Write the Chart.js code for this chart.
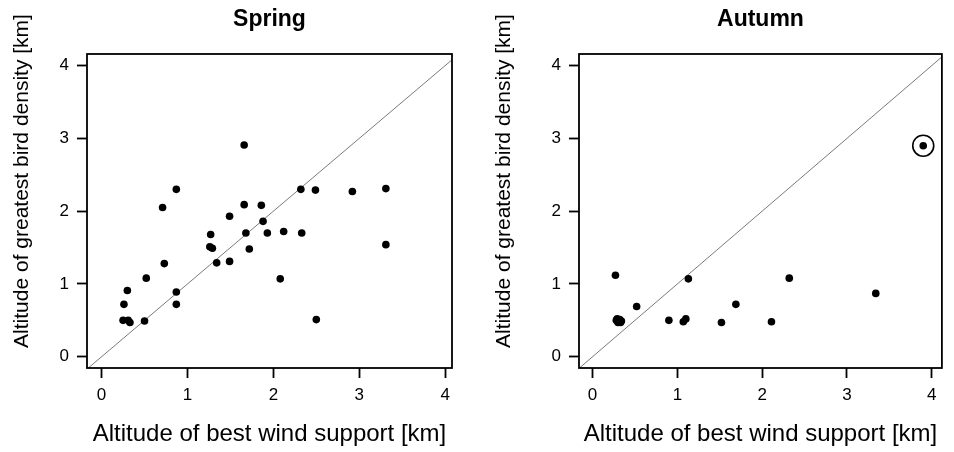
<!DOCTYPE html>
<html><head><meta charset="utf-8">
<script src="https://cdn.jsdelivr.net/npm/chart.js@4.4.0/dist/chart.umd.min.js"></script>
<style>
html,body{margin:0;padding:0;background:#fff;}
#wrap{position:relative;width:954px;height:452px;background:#fff;}
.c{position:absolute;top:0;width:477px;height:452px;}
</style></head><body>
<div id="wrap">
<div class="c" style="left:0"><canvas id="spring" width="477" height="452"></canvas></div>
<div class="c" style="left:477px"><canvas id="autumn" width="477" height="452"></canvas></div>
</div>
<script>
// ---- data ----
const tickValues = [0, 1, 2, 3, 4];
const panelTitles = ['Spring', 'Autumn'];
const xAxisTitle = 'Altitude of best wind support [km]';
const yAxisTitle = 'Altitude of greatest bird density [km]';

const springWind = [1.66,0.87,0.71,2.32,2.49,2.92,3.31,1.66,1.86,1.49,1.88,1.27,1.68,1.93,2.12,2.33,1.26,1.29,1.72,3.31,0.73,1.34,1.49,0.52,2.08,0.30,0.87,0.26,0.87,0.25,0.31,0.33,0.50,2.50];
const springBird = [2.91,2.30,2.05,2.30,2.29,2.27,2.31,2.09,2.08,1.93,1.86,1.68,1.70,1.70,1.72,1.70,1.51,1.49,1.48,1.54,1.28,1.29,1.31,1.08,1.07,0.91,0.89,0.72,0.72,0.50,0.50,0.47,0.49,0.51];

const autumnWind = [3.90,0.27,1.13,2.32,3.34,0.52,1.69,0.90,1.07,1.10,1.52,2.11,0.28,0.30,0.32,0.34,0.29,0.33];
const autumnBird = [2.90,1.12,1.07,1.08,0.87,0.69,0.72,0.50,0.48,0.52,0.47,0.48,0.50,0.47,0.51,0.49,0.52,0.47];

const autumnHighlightWind = [3.90];
const autumnHighlightBird = [2.90];

const diagonal = [-1, 5];

// ---- helpers ----
Chart.defaults.font.family = '"Liberation Sans", Arial, Helvetica, sans-serif';
Chart.defaults.color = '#000';

function pts(xs, ys) { return xs.map((x, i) => ({x: x, y: ys[i]})); }

function makePanel(id, title, xs, ys, hx, hy, lay) {
  const datasets = [
    {data: pts(diagonal, diagonal), showLine: true, borderColor: '#7a7a7a', borderWidth: 1, pointRadius: 0, order: 3},
    {data: pts(xs, ys), backgroundColor: '#000', borderWidth: 0, pointRadius: 3.8, order: 1}
  ];
  if (hx) datasets.push({data: pts(hx, hy), backgroundColor: 'rgba(0,0,0,0)', borderColor: '#000', borderWidth: 1.6, pointRadius: 10.5, order: 0});
  const framePlugin = {
    id: 'frame',
    afterDraw(chart) {
      const {ctx, chartArea: a} = chart;
      ctx.save();
      ctx.strokeStyle = '#000';
      ctx.lineWidth = 1.8;
      ctx.strokeRect(a.left, a.top, a.right - a.left, a.bottom - a.top);
      // panel title, centred over the plot box
      ctx.fillStyle = '#000';
      ctx.font = 'bold 23px "Liberation Sans", Arial, sans-serif';
      ctx.textAlign = 'center';
      ctx.textBaseline = 'middle';
      ctx.fillText(title, (a.left + a.right) / 2, 20);
      // y axis title
      ctx.translate(lay.yTitleX, lay.yTitleY);
      ctx.rotate(-Math.PI / 2);
      ctx.font = '21px "Liberation Sans", Arial, sans-serif';
      ctx.fillText(yAxisTitle, 0, 0);
      ctx.restore();
    }
  };
  const setTicks = (scale) => { scale.ticks = tickValues.map(v => ({value: v})); };
  return new Chart(document.getElementById(id), {
    type: 'scatter',
    data: {datasets: datasets},
    options: {
      responsive: false, animation: false, devicePixelRatio: 1,
      layout: {padding: {left: 0, right: lay.rightPad, top: 54, bottom: 0}},
      plugins: {legend: {display: false}, tooltip: {enabled: false}, title: {display: false}},
      scales: {
        x: {
          type: 'linear', min: lay.xMin, max: lay.xMax,
          afterBuildTicks: setTicks,
          afterFit: (s) => { s.height = 84; },
          grid: {drawOnChartArea: false, drawTicks: true, tickLength: 10, tickColor: '#000', tickWidth: 1.8, color: '#000'},
          border: {display: false},
          ticks: {font: {size: 17}, padding: 7, maxRotation: 0, color: '#000'},
          title: {display: true, text: xAxisTitle, font: {size: 24}, padding: {top: 0, bottom: 3}, color: '#000'}
        },
        y: {
          type: 'linear', min: -0.155, max: 4.16,
          afterBuildTicks: setTicks,
          afterFit: (s) => { s.width = lay.yWidth; },
          grid: {drawOnChartArea: false, drawTicks: true, tickLength: 10, tickColor: '#000', tickWidth: 1.8, color: '#000'},
          border: {display: false},
          ticks: {font: {size: 17}, padding: 8, color: '#000'}
        }
      }
    },
    plugins: [framePlugin]
  });
}

makePanel('spring', panelTitles[0], springWind, springBird, null, null,
  {xMin: -0.17, xMax: 4.08, yWidth: 87, rightPad: 25, yTitleX: 22, yTitleY: 181});
makePanel('autumn', panelTitles[1], autumnWind, autumnBird, autumnHighlightWind, autumnHighlightBird,
  {xMin: -0.16, xMax: 4.12, yWidth: 102, rightPad: 7, yTitleX: 27, yTitleY: 181});
</script>
</body></html>
